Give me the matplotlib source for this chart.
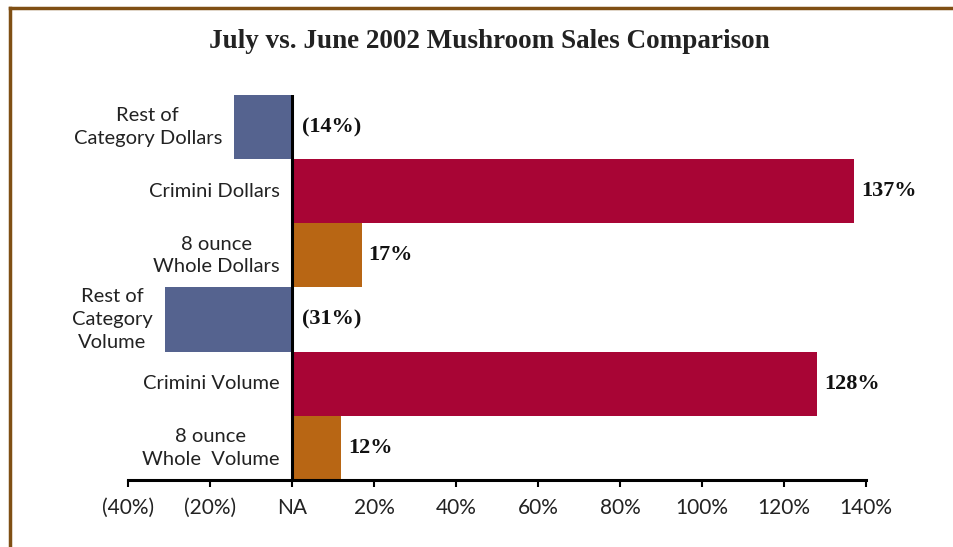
import matplotlib.pyplot as plt
from matplotlib.lines import Line2D

categories = ["Rest of\nCategory Dollars", "Crimini Dollars", "8 ounce\nWhole Dollars",
              "Rest of\nCategory\nVolume", "Crimini Volume", "8 ounce\nWhole  Volume"]
changes = [-14, 137, 17, -31, 128, 12]
colors = ["#55638F", "#A80535", "#B86614", "#55638F", "#A80535", "#B86614"]
tick_vals = [-40, -20, 0, 20, 40, 60, 80, 100, 120, 140]
tick_labels = ["(40%)", "(20%)", "NA", "20%", "40%", "60%", "80%", "100%", "120%", "140%"]

sans = "Lato"
serif = "Liberation Serif"

fig = plt.figure(figsize=(9.54, 5.47), dpi=100)
ax = fig.add_axes([0.134, 0.1225, 0.774, 0.704])

pos = list(range(len(categories)))
ax.barh(pos, changes, height=1.0, color=colors, edgecolor="none")
ax.set_ylim(len(categories) - 0.5, -0.5)
ax.set_xlim(-40, 140)
ax.axvline(0, color="black", lw=2.2, zorder=3)

# value labels: negatives sit just right of the zero line
for y, v in zip(pos, changes):
    if v < 0:
        txt, x, off = "(%d%%)" % -v, 0, 7
    else:
        txt, x, off = "%d%%" % v, v, 5
    ax.annotate(txt, (x, y), xytext=(off, 0), textcoords="offset points",
                ha="left", va="center", fontsize=16, fontweight="bold",
                family=serif, color="#111111")

# category labels sit left of each bar's start
for y, v, name in zip(pos, changes, categories):
    ax.annotate(name, (min(v, 0), y), xytext=(-9, 0), textcoords="offset points",
                ha="right", va="center", multialignment="center",
                fontsize=14.5, family=sans, color="#222222", linespacing=1.4)

ax.set_yticks([])
ax.set_xticks(tick_vals)
ax.set_xticklabels(tick_labels, family=sans, fontsize=15, color="#222222")
ax.tick_params(axis="x", direction="out", length=5, width=1.5, pad=8)
for s in ["left", "right", "top"]:
    ax.spines[s].set_visible(False)
ax.spines["bottom"].set_linewidth(2.2)

fig.suptitle("July vs. June 2002 Mushroom Sales Comparison", x=0.513, y=0.947,
             fontsize=19.5, fontweight="bold", family=serif, color="#222222")

# brown frame along the top and left edges
fig.add_artist(Line2D([10 / 954, 1], [1 - 8 / 547, 1 - 8 / 547], color="#7F4F14", lw=2.5,
                      transform=fig.transFigure))
fig.add_artist(Line2D([10 / 954, 10 / 954], [0, 1 - 8 / 547], color="#7F4F14", lw=2.5,
                      transform=fig.transFigure))

fig.savefig("out.png", dpi=100)
